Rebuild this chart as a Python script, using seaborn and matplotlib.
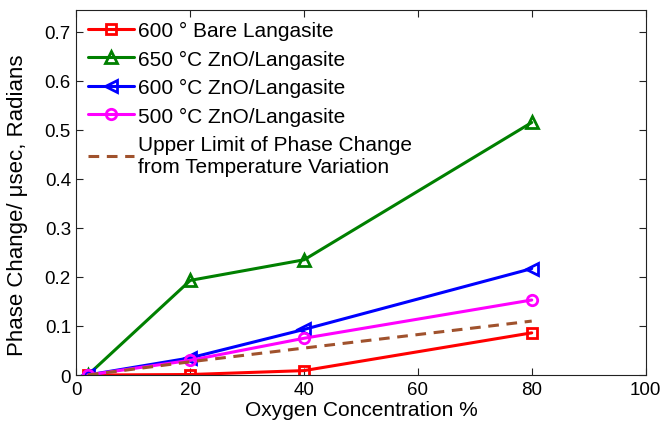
import matplotlib
matplotlib.use("Agg")
import matplotlib.pyplot as plt
import seaborn as sns
import pandas as pd

oxygen = [2, 20, 40, 80]
bare_600 = [0.0, 0.001, 0.009, 0.086]
zno_650 = [0.0, 0.193, 0.235, 0.515]
zno_600 = [0.0, 0.035, 0.093, 0.217]
zno_500 = [0.0, 0.030, 0.075, 0.153]
temp_limit = [0.0, 0.027, 0.055, 0.110]

labels = ["600 \u00b0 Bare Langasite", "650 \u00b0C ZnO/Langasite",
          "600 \u00b0C ZnO/Langasite", "500 \u00b0C ZnO/Langasite",
          "Upper Limit of Phase Change\nfrom Temperature Variation"]
xticks = [0, 20, 40, 60, 80, 100]
yticks = [0, 0.1, 0.2, 0.3, 0.4, 0.5, 0.6, 0.7]
ytick_labels = ["0", "0.1", "0.2", "0.3", "0.4", "0.5", "0.6", "0.7"]

sns.set_style("white")
plt.rcParams['font.family'] = ['Liberation Sans', 'DejaVu Sans']
plt.rcParams['text.color'] = 'black'
plt.rcParams['axes.labelcolor'] = 'black'
plt.rcParams['xtick.color'] = '#222222'
plt.rcParams['ytick.color'] = '#222222'
plt.rcParams['xtick.labelcolor'] = 'black'
plt.rcParams['ytick.labelcolor'] = 'black'

fig = plt.figure(figsize=(6.64, 4.27), dpi=100)
ax = fig.add_axes([0.1152, 0.1194, 0.857, 0.8555])

series = [
    (bare_600, "#ff0000", "s", 7),
    (zno_650, "#008000", "^", 8.5),
    (zno_600, "#0000ff", "<", 8.5),
    (zno_500, "#ff00ff", "o", 7.5),
]
for vals, col, mk, ms in series:
    df = pd.DataFrame({"x": oxygen, "y": vals})
    sns.lineplot(data=df, x="x", y="y", ax=ax, color=col, marker=mk,
                 markersize=ms, markerfacecolor="none", markeredgecolor=col,
                 markeredgewidth=2.0, linewidth=2.2)
df = pd.DataFrame({"x": oxygen, "y": temp_limit})
sns.lineplot(data=df, x="x", y="y", ax=ax, color="#a0522d", linewidth=2.2,
             linestyle=(0, (3.5, 2.5)))

ax.set_xlim(0, 100)
ax.set_ylim(0, 0.745)
ax.set_xticks(xticks)
ax.set_yticks(yticks)
ax.set_yticklabels(ytick_labels)
ax.tick_params(direction="in", length=5, width=0.8, labelsize=13.5,
               top=True, right=True, bottom=True, left=True, pad=4)
for s in ax.spines.values():
    s.set_color("#222222")
    s.set_linewidth(0.8)
ax.set_xlabel("Oxygen Concentration %", fontsize=15, labelpad=2)
ax.set_ylabel("Phase Change/ \u03bcsec, Radians", fontsize=16)
ax.yaxis.set_label_coords(-0.085, 0.468)

handles = ax.get_lines()
leg = ax.legend(handles, labels, loc="upper left", frameon=False,
                fontsize=15, handlelength=2.2, handletextpad=0.22,
                labelspacing=0.45, borderaxespad=0.0, borderpad=0.55,
                bbox_to_anchor=(0.0, 1.0))

fig.savefig("out.png", dpi=100)
